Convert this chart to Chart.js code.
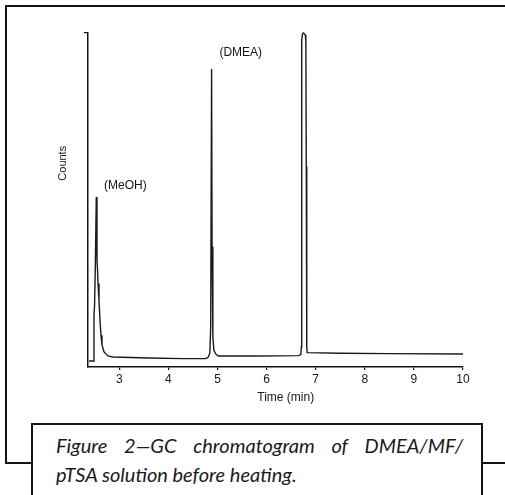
<!DOCTYPE html>
<html>
<head>
<meta charset="utf-8">
<title>GC chromatogram</title>
<script src="https://cdn.jsdelivr.net/npm/chart.js@4.4.1/dist/chart.umd.min.js"></script>
<style>
  html, body { margin: 0; padding: 0; background: #fff; }
  #wrap { position: relative; width: 505px; height: 495px; overflow: hidden; }
  #chart { position: absolute; left: 0; top: 0; }
  .rule { position: absolute; background: #141414; }
  #capbox {
    position: absolute; left: 31px; top: 423px; width: 448px; height: 90px;
    border: 2px solid #141414; border-bottom: none; background: #fff;
  }
  #caption {
    position: absolute; left: 23px; top: 6px; width: 407px;
    font-family: Lato, "Open Sans", sans-serif; font-style: italic;
    font-size: 20px; line-height: 29px; color: #1a1a1a;
  }
  #caption .l1 { display: block; text-align: justify; text-align-last: justify; }
  #caption .l2 { display: block; text-align: left; }
</style>
</head>
<body>
<div id="wrap">
  <canvas id="chart" width="505" height="495"></canvas>
  <div class="rule" style="left:5px;top:5px;width:500px;height:2px"></div>
  <div class="rule" style="left:5px;top:5px;width:2px;height:459px"></div>
  <div class="rule" style="left:5px;top:462px;width:28px;height:2px"></div>
  <div class="rule" style="left:483px;top:462px;width:22px;height:2px"></div>
  <div id="capbox">
    <div id="caption"><span class="l1">Figure 2—GC chromatogram of DMEA/MF/</span><span class="l2">pTSA solution before heating.</span></div>
  </div>
</div>
<script>
// detector trace (time in min, counts in % of full scale)
const timeMin = [2.385, 2.478, 2.485, 2.497, 2.512, 2.532, 2.546, 2.556, 2.567, 2.587,
  2.607, 2.628, 2.648, 2.689, 2.770, 2.872, 3.60, 4.30, 4.76, 4.810,
  4.845, 4.862, 4.880, 4.890, 4.906, 4.927, 4.968, 5.020, 5.80, 6.65,
  6.698, 6.708, 6.713, 6.718, 6.730, 6.748, 6.770, 6.790, 6.800, 6.808,
  6.818, 6.826, 7.50, 8.50, 10.0];
const counts = [1.8, 1.8, 15.5, 18.5, 30, 50.9, 32, 29.5, 25, 20,
  14, 9.5, 6.6, 4.5, 3.3, 3.0, 2.7, 2.5, 2.5, 2.9,
  4.2, 12, 89.2, 36, 9, 5, 3.8, 3.3, 3.3, 3.4,
  3.7, 6, 60, 98, 99.6, 100, 99.8, 99.3, 97.5, 60,
  6, 4.3, 4.1, 4.0, 3.9];
const xTicks = [3, 4, 5, 6, 7, 8, 9, 10];

// peak labels
const peakNames = ['(MeOH)', '(DMEA)'];
const peakLabelTime = [2.69, 5.04];
const peakLabelCount = [54.3, 94];

const xTitle = 'Time (min)';
const yTitle = 'Counts';

const labelFont = '12px "Liberation Sans", Arial, sans-serif';

const textPlugin = {
  id: 'texts',
  afterDraw(chart) {
    const ctx = chart.ctx;
    const xs = chart.scales.x, ys = chart.scales.y;
    ctx.save();
    ctx.fillStyle = '#161616';
    ctx.font = labelFont;
    ctx.textBaseline = 'middle';
    ctx.textAlign = 'left';
    peakNames.forEach((name, i) => {
      ctx.fillText(name, xs.getPixelForValue(peakLabelTime[i]), ys.getPixelForValue(peakLabelCount[i]));
    });
    // axis titles
    ctx.textAlign = 'center';
    ctx.fillText(xTitle, xs.getPixelForValue(6.39), xs.bottom + 1);
    ctx.font = '11px "Liberation Sans", Arial, sans-serif';
    ctx.translate(62.5, ys.getPixelForValue(61));
    ctx.rotate(-Math.PI / 2);
    ctx.fillText(yTitle, 0, 0);
    ctx.restore();
  }
};

new Chart(document.getElementById('chart'), {
  type: 'line',
  data: {
    datasets: [{
      data: timeMin.map((t, i) => ({ x: t, y: counts[i] })),
      borderColor: '#1a1a1a',
      borderWidth: 1.4,
      pointRadius: 0,
      tension: 0,
      fill: false,
      clip: 6
    }]
  },
  options: {
    responsive: false,
    animation: false,
    events: [],
    layout: { padding: { left: 84, top: 33, right: 42, bottom: 98 } },
    plugins: { legend: { display: false }, tooltip: { enabled: false } },
    scales: {
      x: {
        type: 'linear',
        min: 2.363,
        max: 10,
        afterBuildTicks(s) { s.ticks = xTicks.map(v => ({ value: v })); },
        afterFit(s) { s.height = 30; },
        border: { display: true, color: '#141414', width: 1.5 },
        grid: { drawOnChartArea: false, drawTicks: true, tickLength: 3, color: '#141414', lineWidth: 1.2 },
        ticks: {
          color: '#161616',
          font: { family: '"Liberation Sans", Arial, sans-serif', size: 12 },
          padding: 2,
          maxRotation: 0,
          callback: v => String(v)
        }
      },
      y: {
        type: 'linear',
        min: 0,
        max: 100,
        afterBuildTicks(s) { s.ticks = [{ value: 100 }]; },
        afterFit(s) { s.width = 4; },
        border: { display: true, color: '#141414', width: 1.5 },
        grid: { drawOnChartArea: false, drawTicks: true, tickLength: 4, color: '#141414', lineWidth: 1.2 },
        ticks: { display: false }
      }
    }
  },
  plugins: [textPlugin]
});
</script>
</body>
</html>
